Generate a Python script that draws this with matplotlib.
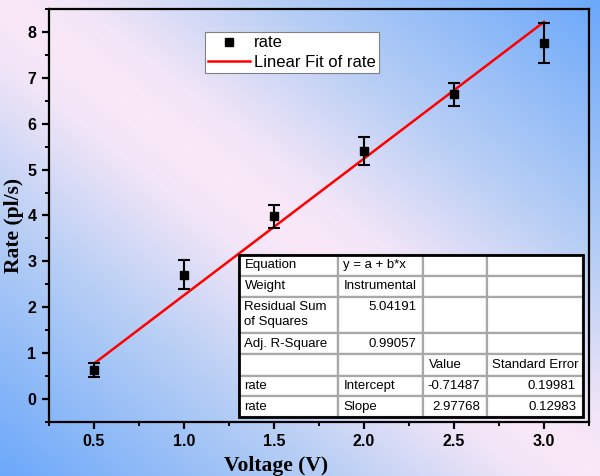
import matplotlib
matplotlib.use("Agg")
import matplotlib.pyplot as plt
import numpy as np
from matplotlib.lines import Line2D
from matplotlib.patches import Rectangle
from matplotlib.ticker import MultipleLocator

# data
voltage = [0.5, 1.0, 1.5, 2.0, 2.5, 3.0]
rate = [0.63, 2.71, 3.98, 5.40, 6.64, 7.76]
rate_err = [0.15, 0.32, 0.25, 0.30, 0.25, 0.43]

intercept = -0.71487
slope = 2.97768

table_rows = [
    ["Equation", "y = a + b*x", "", ""],
    ["Weight", "Instrumental", "", ""],
    ["Residual Sum\nof Squares", "5.04191", "", ""],
    ["Adj. R-Square", "0.99057", "", ""],
    ["", "", "Value", "Standard Error"],
    ["rate", "Intercept", "-0.71487", "0.19981"],
    ["rate", "Slope", "2.97768", "0.12983"],
]

W, H = 600, 476
fig = plt.figure(figsize=(W / 100, H / 100), dpi=100)

# background gradient: pink along the main diagonal, blue in the other corners
bg = fig.add_axes([0, 0, 1, 1], zorder=-10)
u, v = np.meshgrid(np.linspace(0, 1, W), np.linspace(0, 1, H))
t = np.abs(u - v)
stops = [0.0, 0.12, 0.45, 1.0]
pink = (0.98, 0.91, 0.97)
pink2 = (0.95, 0.90, 0.97)
mid = (0.72, 0.81, 0.96)
blue = (0.42, 0.66, 0.98)
img = np.dstack([np.interp(t, stops, [pink[i], pink2[i], mid[i], blue[i]])
                 for i in range(3)])
bg.imshow(img, aspect="auto", extent=(0, 1, 0, 1), origin="upper")
bg.axis("off")

ax = fig.add_axes([49 / W, 1 - 422 / H, 540 / W, 413 / H])
ax.patch.set_alpha(0)

xs = np.array(voltage)
fit_y = intercept + slope * xs
ax.plot(xs, fit_y, color="#ff0000", lw=1.8, zorder=3)
ax.errorbar(voltage, rate, yerr=rate_err, fmt="s", color="black", ms=6,
            elinewidth=1.5, capsize=4.5, capthick=1.5, zorder=4)

ax.set_xlim(0.25, 3.25)
ax.set_ylim(-0.5, 8.5)
ax.xaxis.set_minor_locator(MultipleLocator(0.25))
ax.yaxis.set_major_locator(MultipleLocator(1))
ax.yaxis.set_minor_locator(MultipleLocator(0.5))
xt = np.arange(0.5, 3.01, 0.5)
ax.set_xticks(xt)
ax.set_xticklabels([f"{x:.1f}" for x in xt])

for s in ax.spines.values():
    s.set_linewidth(1.6)
ax.tick_params(which="major", direction="out", length=5, width=1.6,
               labelsize=11.5, pad=4)
ax.tick_params(which="minor", direction="out", length=3, width=1.4)
for lab in ax.get_xticklabels() + ax.get_yticklabels():
    lab.set_fontfamily("Liberation Sans")
    lab.set_fontweight("bold")

ax.set_xlabel("Voltage (V)", family="Liberation Serif", fontweight="bold",
              fontsize=15.5)
ax.set_ylabel("Rate (pl/s)", family="Liberation Serif", fontweight="bold",
              fontsize=15.5)
ax.xaxis.set_label_coords(0.42, -0.083)
ax.yaxis.set_label_coords(-0.046, 0.475)

handles = [Line2D([], [], ls="none", marker="s", ms=6, color="black"),
           Line2D([], [], color="#ff0000", lw=1.8)]
leg = ax.legend(handles, ["rate", "Linear Fit of rate"], loc="upper left",
                bbox_to_anchor=(0.289, 0.944), borderaxespad=0,
                prop={"family": "Liberation Sans", "size": 12},
                fancybox=False, framealpha=1, edgecolor="#808080",
                handlelength=2.5, handletextpad=0.25, labelspacing=0.25,
                borderpad=0.2)
leg.get_frame().set_linewidth(0.8)

# fit results table
col_edges = [0.352, 0.535, 0.693, 0.811, 0.989]
row_edges = [0.404, 0.354, 0.303, 0.215, 0.165, 0.111, 0.063, 0.012]
right_cols = {(2, 1), (3, 1), (5, 2), (6, 2), (5, 3), (6, 3)}
tb = ax.transAxes
for r, row in enumerate(table_rows):
    top, bot = row_edges[r], row_edges[r + 1]
    for c, txt in enumerate(row):
        left, right = col_edges[c], col_edges[c + 1]
        ax.add_patch(Rectangle((left, bot), right - left, top - bot,
                               transform=tb, facecolor="white",
                               edgecolor="#a8a8a8", lw=1.6, zorder=5))
        if not txt:
            continue
        ty = top - 0.01 if r == 2 else (top + bot) / 2
        va = "top" if r == 2 else "center"
        if (r, c) in right_cols:
            ax.text(right - 0.013, ty, txt, transform=tb, ha="right", va=va,
                    family="Liberation Sans", fontsize=9.5, zorder=6,
                    linespacing=1.3)
        else:
            ax.text(left + 0.01, ty, txt, transform=tb, ha="left", va=va,
                    family="Liberation Sans", fontsize=9.5, zorder=6,
                    linespacing=1.3)
ax.add_patch(Rectangle((col_edges[0], row_edges[-1]),
                       col_edges[-1] - col_edges[0],
                       row_edges[0] - row_edges[-1], transform=tb,
                       facecolor="none", edgecolor="black", lw=2, zorder=7))

fig.savefig("out.png", dpi=100)
